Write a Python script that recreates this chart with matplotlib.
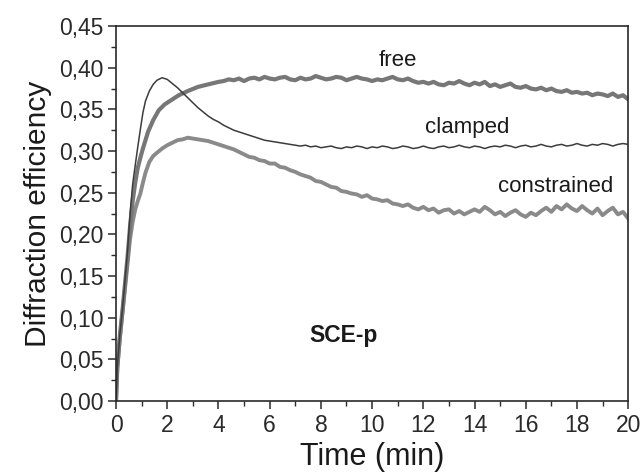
import numpy as np
import matplotlib
matplotlib.use("Agg")
import matplotlib.pyplot as plt
from matplotlib.ticker import MultipleLocator, FuncFormatter

""" DATA (read off the reference) """

# free: rise, then plateau every 0.2 min up to 20 min
free_t = [0, 0.05, 0.15, 0.25, 0.35, 0.45, 0.55, 0.65, 0.75, 0.85, 0.95,
          1.05, 1.25, 1.45, 1.67, 1.9, 2.2, 2.45, 2.8, 3.2, 3.6, 4.0]
free_v = [0, 0.040, 0.078, 0.108, 0.140, 0.173, 0.210, 0.240, 0.262, 0.280,
          0.292, 0.303, 0.323, 0.337, 0.349, 0.356, 0.362, 0.367, 0.372,
          0.377, 0.380, 0.383]
free_plateau = [0.384, 0.386, 0.385, 0.387, 0.384, 0.387, 0.388, 0.386, 0.389,
                0.387, 0.386, 0.388, 0.389, 0.386, 0.385, 0.388, 0.386, 0.387,
                0.390, 0.388, 0.386, 0.387, 0.389, 0.388, 0.385, 0.387, 0.389,
                0.387, 0.386, 0.384, 0.386, 0.385, 0.387, 0.389, 0.386, 0.385,
                0.387, 0.384, 0.382, 0.383, 0.381, 0.383, 0.380, 0.379, 0.382,
                0.381, 0.384, 0.381, 0.379, 0.382, 0.380, 0.383, 0.378, 0.380,
                0.377, 0.379, 0.381, 0.377, 0.376, 0.378, 0.375, 0.374, 0.376,
                0.373, 0.375, 0.372, 0.371, 0.373, 0.370, 0.371, 0.369, 0.370,
                0.367, 0.369, 0.368, 0.366, 0.369, 0.365, 0.367, 0.362]

clamped_t = [0, 0.05, 0.15, 0.25, 0.35, 0.45, 0.55, 0.65, 0.75, 0.85, 0.95,
             1.05, 1.15, 1.3, 1.45, 1.6, 1.8, 2.0, 2.2, 2.4, 2.6, 2.8, 3.0,
             3.2, 3.4, 3.6, 3.8, 4.0, 4.2, 4.4, 4.6, 4.8, 5.0, 5.2, 5.4, 5.6,
             5.8, 6.0, 6.2, 6.4, 6.6, 6.8, 7.0]
clamped_v = [0, 0.040, 0.080, 0.110, 0.145, 0.180, 0.225, 0.260, 0.283,
             0.305, 0.326, 0.346, 0.360, 0.372, 0.380, 0.385, 0.388, 0.386,
             0.381, 0.376, 0.370, 0.364, 0.358, 0.352, 0.347, 0.342, 0.338,
             0.335, 0.331, 0.328, 0.325, 0.323, 0.321, 0.319, 0.317, 0.315,
             0.313, 0.312, 0.311, 0.310, 0.309, 0.308, 0.307]
clamped_plateau = [0.306, 0.307, 0.305, 0.306, 0.304, 0.305, 0.306, 0.304,
                   0.303, 0.305, 0.304, 0.306, 0.305, 0.303, 0.305, 0.304,
                   0.306, 0.305, 0.303, 0.304, 0.306, 0.305, 0.303, 0.304,
                   0.306, 0.304, 0.303, 0.305, 0.306, 0.304, 0.305, 0.307,
                   0.305, 0.304, 0.306, 0.305, 0.303, 0.305, 0.306, 0.305,
                   0.307, 0.306, 0.304, 0.306, 0.307, 0.305, 0.306, 0.308,
                   0.306, 0.305, 0.307, 0.308, 0.306, 0.307, 0.309, 0.307,
                   0.306, 0.308, 0.307, 0.309, 0.308, 0.306, 0.308, 0.309,
                   0.308]

constrained_t = [0, 0.05, 0.15, 0.25, 0.35, 0.45, 0.55, 0.65, 0.75, 0.85,
                 0.95, 1.05, 1.15, 1.3, 1.45, 1.6, 1.8, 2.0, 2.2, 2.4, 2.6,
                 2.8, 3.0, 3.2, 3.4, 3.6, 3.8, 4.0, 4.2, 4.4, 4.6, 4.8, 5.0]
constrained_v = [0, 0.040, 0.075, 0.105, 0.135, 0.165, 0.195, 0.215, 0.230,
                 0.240, 0.249, 0.262, 0.274, 0.287, 0.294, 0.298, 0.303,
                 0.307, 0.310, 0.313, 0.314, 0.316, 0.315, 0.314, 0.313,
                 0.312, 0.310, 0.308, 0.306, 0.304, 0.302, 0.299, 0.296]
constrained_plateau = [0.293, 0.292, 0.289, 0.288, 0.285, 0.285, 0.281, 0.280,
                       0.277, 0.275, 0.272, 0.270, 0.268, 0.264, 0.263, 0.260,
                       0.257, 0.256, 0.252, 0.251, 0.249, 0.248, 0.245, 0.247,
                       0.243, 0.242, 0.240, 0.241, 0.237, 0.236, 0.234, 0.236,
                       0.232, 0.230, 0.233, 0.229, 0.231, 0.226, 0.229, 0.230,
                       0.225, 0.228, 0.224, 0.227, 0.230, 0.227, 0.233, 0.229,
                       0.224, 0.227, 0.222, 0.226, 0.229, 0.224, 0.221, 0.226,
                       0.223, 0.228, 0.232, 0.227, 0.234, 0.230, 0.236, 0.231,
                       0.228, 0.234, 0.229, 0.225, 0.231, 0.223, 0.228, 0.232,
                       0.224, 0.227, 0.219]

t_end = 20
labels = ["free", "clamped", "constrained"]
label_pos = [(11.0, 0.409), (13.7, 0.328), (17.15, 0.258)]
panel_label = "SCE-p"


""" FUNCTIONS """
def join_series(t_rise, v_rise, plateau):
    # plateau values are evenly spaced from the end of the rise up to t_end
    step = (t_end - t_rise[-1]) / len(plateau)
    t_plat = [t_rise[-1] + step * (k + 1) for k in range(len(plateau))]
    return np.array(list(t_rise) + t_plat), np.array(list(v_rise) + list(plateau))


def comma_fmt(decimals):
    return FuncFormatter(lambda v, pos: f"{v:.{decimals}f}".replace(".", ","))


def main():
    plt.rcParams['font.family'] = ['Liberation Sans', 'DejaVu Sans']

    fig = plt.figure(figsize=(6.41, 4.74), dpi=100)
    ax = fig.add_axes([0.181, 0.154, 0.799, 0.791])

    ft, fv = join_series(free_t, free_v, free_plateau)
    ct, cv = join_series(clamped_t, clamped_v, clamped_plateau)
    st, sv = join_series(constrained_t, constrained_v, constrained_plateau)

    ax.plot(st, sv, color="#8a8a8a", lw=2.8, solid_joinstyle="round")
    ax.plot(ft, fv, color="#777777", lw=3.0, solid_joinstyle="round")
    ax.plot(ct, cv, color="#3c3c3c", lw=1.1)

    for text, (x, y) in zip(labels, label_pos):
        ax.text(x, y, text, fontsize=16, ha="center", va="center", color="#1a1a1a")
    ax.text(8.87, 0.079, panel_label, fontsize=16.5, fontweight="bold",
            ha="center", va="center", color="#1a1a1a")

    ax.set_xlim(0, t_end)
    ax.set_ylim(0, 0.45)
    ax.xaxis.set_major_locator(MultipleLocator(2))
    ax.xaxis.set_minor_locator(MultipleLocator(1))
    ax.yaxis.set_major_locator(MultipleLocator(0.05))
    ax.yaxis.set_minor_locator(MultipleLocator(0.025))
    ax.yaxis.set_major_formatter(comma_fmt(2))

    ax.tick_params(which="both", direction="out", colors="#2a2a2a",
                   labelsize=16.5, top=False, right=False)
    ax.tick_params(which="major", length=6, width=1.1, pad=3)
    ax.tick_params(which="minor", length=3.5, width=1.0)
    for sp in ax.spines.values():
        sp.set_color("#2a2a2a")
        sp.set_linewidth(1.2)

    ax.set_xlabel("Time (min)", fontsize=22, labelpad=4, color="#1a1a1a")
    ax.set_ylabel("Diffraction efficiency", fontsize=21.5, labelpad=5, color="#1a1a1a")

    fig.savefig("out.png", dpi=100)


if __name__ == "__main__":
    main()
